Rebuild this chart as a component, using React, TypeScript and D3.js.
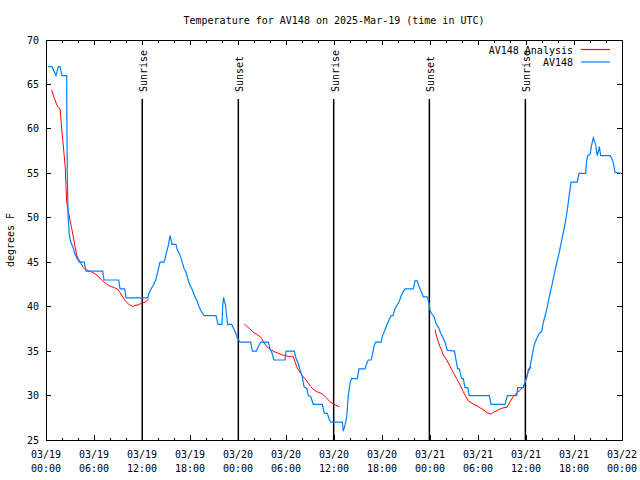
import React from "react";
import * as d3 from "d3";

const TITLE = "Temperature for AV148 on 2025-Mar-19 (time in UTC)";
const Y_LABEL = "degrees F";

// hours since 03/19 00:00 UTC
const obsHours = [0.25, 0.75, 1.25, 1.54, 1.75, 2.0, 2.59, 2.6, 2.66, 2.75, 2.91, 3.09, 3.41, 3.59, 3.84, 4.16, 4.79, 4.88, 5.0, 7.09, 7.25, 9.09, 9.25, 9.84, 10.0, 12.71, 12.88, 13.13, 13.41, 13.71, 13.91, 14.04, 14.25, 14.75, 14.88, 15.09, 15.29, 15.5, 15.59, 15.75, 16.25, 16.41, 16.75, 16.96, 17.25, 17.5, 17.71, 18.0, 18.29, 18.63, 18.91, 19.13, 19.46, 19.75, 21.25, 21.5, 22.0, 22.09, 22.21, 22.29, 22.41, 22.59, 22.71, 23.21, 23.63, 23.91, 24.25, 25.59, 25.79, 26.29, 26.54, 26.84, 27.79, 28.0, 28.21, 28.5, 29.88, 30.0, 31.04, 31.25, 31.54, 31.75, 32.04, 32.25, 32.59, 32.79, 33.09, 33.41, 34.54, 34.79, 35.16, 35.38, 35.59, 37.04, 37.16, 37.38, 37.59, 37.79, 38.0, 38.19, 38.91, 39.13, 39.88, 40.09, 40.29, 40.66, 40.84, 41.04, 41.21, 41.88, 42.09, 42.29, 42.59, 42.88, 43.13, 43.38, 43.63, 43.91, 44.16, 44.38, 44.66, 44.88, 45.91, 46.13, 46.41, 46.66, 46.96, 47.16, 47.66, 47.88, 48.0, 48.21, 48.5, 48.75, 49.04, 49.34, 49.59, 49.88, 50.16, 51.06, 51.25, 51.46, 51.66, 51.96, 52.16, 52.38, 52.71, 52.91, 55.41, 55.63, 57.38, 57.66, 58.84, 58.96, 59.66, 59.91, 60.09, 60.29, 60.5, 60.69, 60.91, 61.13, 61.34, 61.66, 61.96, 62.16, 62.46, 62.71, 63.0, 63.29, 63.54, 63.84, 64.13, 64.38, 64.66, 64.96, 65.21, 65.41, 65.63, 66.41, 66.63, 67.46, 67.59, 67.71, 68.0, 68.21, 68.41, 68.71, 68.91, 69.09, 69.16, 69.34, 70.5, 70.71, 70.91, 71.13, 71.88];
const obsTemps = [67, 67, 66, 67, 67, 66, 66, 62.2, 55, 50.5, 48.1, 47.3, 46.6, 46, 45.5, 45, 45, 44.5, 44, 44, 43, 43, 42, 42, 41, 41, 41.5, 42, 42.4, 43, 43.7, 44.2, 45, 45, 45.4, 46.2, 46.9, 48, 47.7, 47, 47, 46.4, 45.8, 45.2, 44.3, 43.9, 43.2, 42.4, 41.9, 41.1, 40.6, 40, 39.4, 39, 39, 38, 38, 40.2, 41.05, 40.6, 40.3, 38.9, 38, 38, 37.2, 36.5, 36, 36, 35, 35, 35.5, 36, 36, 35.2, 34.9, 34, 34, 35, 35, 34.2, 33.6, 32.9, 32.1, 31, 30.8, 30, 29.9, 29, 29, 28, 28, 27.4, 27, 27, 26, 26.7, 27.6, 30, 31.4, 31.9, 31.9, 33, 33, 33.6, 34, 34, 34.8, 35.7, 36, 36, 36.8, 37.2, 37.9, 38.5, 39, 39, 39.8, 40.2, 40.6, 41.2, 41.7, 42, 42, 42.9, 42.9, 42.2, 41.6, 41.1, 41.1, 40.4, 39.6, 39.2, 38.9, 38.1, 37.7, 37, 36.6, 36, 35.1, 35, 34, 33, 33, 31.9, 31.9, 30.9, 30.9, 30, 30, 29, 29, 30, 30, 30.9, 30.9, 31.6, 32, 32.9, 33.2, 34.1, 35.2, 36, 36.4, 37, 37.2, 38.2, 39.2, 40.2, 41.5, 42.6, 43.7, 44.9, 46, 47.1, 48.3, 49.7, 51.2, 52.6, 54, 54, 55, 55, 56.5, 57, 57.1, 58.2, 59, 58.2, 57, 57.6, 58, 57, 57, 56.7, 56.2, 55.1, 55];

// analysis (null = gap)
const anaHours = [0.71, 0.91, 1.13, 1.34, 1.54, 1.75, 1.96, 2.09, 2.25, 2.41, 2.5, 2.59, 2.79, 3.0, 3.21, 3.41, 3.63, 3.84, 4.04, 4.25, 4.46, 4.66, 4.88, 5.29, 5.71, 6.13, 6.54, 6.96, 7.38, 7.79, 8.21, 8.63, 8.91, 9.25, 9.59, 9.88, 10.29, 10.84, 11.13, 11.54, 11.96, 12.38, 12.84,
  null,
  24.79, 25.09, 25.41, 25.71, 26.0, 26.34, 26.66, 26.96, 27.16, 27.38, 27.59, 27.88, 28.21, 28.63, 29.04, 29.46, 29.88, 30.29, 30.71, 30.91, 31.13, 31.34, 31.54, 31.84, 32.16, 32.5, 32.79, 33.09, 33.41, 33.84, 34.25, 34.66, 35.09, 35.5, 35.91, 36.25, 36.66,
  null,
  48.63, 48.84, 49.04, 49.25, 49.46, 49.66, 50.09, 50.5, 50.91, 51.34, 51.75, 52.16, 52.59, 52.79, 53.41, 54.04, 54.66, 55.09, 55.59, 55.91, 56.54, 57.09, 57.66, 58.0, 58.41, 58.84, 59.25, 59.66, 59.88, 60.09, 60.29, 60.63];
const anaTemps = [64.4, 63.8, 63.25, 62.7, 62.4, 62.3, 60.1, 58.75, 57.25, 55.6, 53.5, 51.8, 50.7, 49.75, 48.8, 47.9, 46.75, 45.8, 45.4, 45.06, 44.7, 44.4, 44.2, 44.05, 43.9, 43.7, 43.4, 43.0, 42.7, 42.4, 42.25, 42.1, 42.0, 41.6, 41.1, 40.7, 40.3, 40.0, 40.15, 40.2, 40.4, 40.5, 40.86,
  null,
  38.05, 37.8, 37.55, 37.3, 37.07, 36.9, 36.7, 36.44, 36.06, 35.8, 35.5, 35.3, 35.1, 34.9, 34.75, 34.6, 34.5, 34.4, 34.4, 34.35, 33.8, 33.25, 32.9, 32.5, 32.1, 31.75, 31.4, 31.0, 30.7, 30.44, 30.3, 30.1, 29.7, 29.3, 29.05, 28.9, 28.75,
  null,
  37.4, 36.6, 36.06, 35.5, 35.1, 34.56, 34.0, 33.3, 32.6, 31.9, 31.2, 30.44, 29.7, 29.4, 29.05, 28.75, 28.4, 28.1, 27.9, 28.1, 28.4, 28.6, 28.7, 29.3, 29.9, 30.3, 30.6, 31.0, 31.4, 32.1, 32.7, 33.25];

const sunHours = [12.03, 24.04, 35.96, 47.92, 59.92];
const sunLabels = ["Sunrise", "Sunset", "Sunrise", "Sunset", "Sunrise"];

const xTickHours = [0, 6, 12, 18, 24, 30, 36, 42, 48, 54, 60, 66, 72];
const xTickDates = ["03/19", "03/19", "03/19", "03/19", "03/20", "03/20", "03/20", "03/20", "03/21", "03/21", "03/21", "03/21", "03/22"];
const xTickTimes = ["00:00", "06:00", "12:00", "18:00", "00:00", "06:00", "12:00", "18:00", "00:00", "06:00", "12:00", "18:00", "00:00"];
const yTicks = [25, 30, 35, 40, 45, 50, 55, 60, 65, 70];

const seriesNames = ["AV148 Analysis", "AV148"];
const seriesColors = ["#ff0000", "#0080ff"];

const FONT = "'DejaVu Sans Mono', monospace";

export default function App() {
  const L = 46, R = 622, T = 40, B = 440;
  const x = d3.scaleLinear().domain([0, 72]).range([L, R]);
  const y = d3.scaleLinear().domain([25, 70]).range([B, T]);

  const obs = obsHours.map((h, i) => [h, obsTemps[i]] as [number, number]);
  const ana = anaHours.map((h, i) => [h, anaTemps[i]] as [any, any]);
  const line = d3
    .line<[any, any]>()
    .defined((d) => d[0] != null && d[1] != null)
    .x((d) => x(d[0]))
    .y((d) => y(d[1]));

  const minorX = d3.range(0, 73, 2).filter((h) => h % 6 !== 0);

  return (
    <svg width={640} height={480} style={{ position: "absolute", left: 0, top: 0, background: "#fff" }} fontFamily={FONT} fontSize={10}>
      <rect x={0} y={0} width={640} height={480} fill="#fff" />
      <text x={(L + R) / 2} y={20} textAnchor="middle" dominantBaseline="central">{TITLE}</text>
      <text transform={`translate(10,${(T + B) / 2}) rotate(-90)`} textAnchor="middle" dominantBaseline="central">{Y_LABEL}</text>

      {/* y ticks */}
      {yTicks.map((v) => (
        <g key={"y" + v}>
          <line x1={L} x2={L + 5} y1={y(v)} y2={y(v)} stroke="#000" shapeRendering="crispEdges" />
          <line x1={R - 5} x2={R} y1={y(v)} y2={y(v)} stroke="#000" shapeRendering="crispEdges" />
          <text x={39} y={y(v)} textAnchor="end" dominantBaseline="central">{v}</text>
        </g>
      ))}
      {/* x ticks */}
      {xTickHours.map((h, i) => (
        <g key={"x" + h}>
          <line x1={x(h)} x2={x(h)} y1={B} y2={B - 5} stroke="#000" shapeRendering="crispEdges" />
          <line x1={x(h)} x2={x(h)} y1={T} y2={T + 5} stroke="#000" shapeRendering="crispEdges" />
          <text x={x(h)} y={454} textAnchor="middle" dominantBaseline="central">{xTickDates[i]}</text>
          <text x={x(h)} y={468} textAnchor="middle" dominantBaseline="central">{xTickTimes[i]}</text>
        </g>
      ))}
      {minorX.map((h) => (
        <g key={"m" + h}>
          <line x1={x(h)} x2={x(h)} y1={B} y2={B - 2.5} stroke="#000" shapeRendering="crispEdges" />
          <line x1={x(h)} x2={x(h)} y1={T} y2={T + 2.5} stroke="#000" shapeRendering="crispEdges" />
        </g>
      ))}

      {/* sunrise/sunset */}
      {sunHours.map((h, i) => (
        <g key={"s" + i}>
          <line x1={x(h)} x2={x(h)} y1={99} y2={B} stroke="#000" strokeWidth={1.5} />
          <text transform={`translate(${x(h) + 5},92) rotate(-90)`} textAnchor="start">{sunLabels[i]}</text>
        </g>
      ))}

      <path d={line(ana) || ""} fill="none" stroke={seriesColors[0]} strokeWidth={1} />
      <path d={line(obs) || ""} fill="none" stroke={seriesColors[1]} strokeWidth={1.2} />

      {/* legend */}
      {seriesNames.map((n, i) => (
        <g key={n}>
          <text x={573} y={50 + i * 12.5} textAnchor="end" dominantBaseline="central">{n}</text>
          <line x1={581} x2={610} y1={49.5 + i * 12.5} y2={49.5 + i * 12.5} stroke={seriesColors[i]} strokeWidth={1.2} />
        </g>
      ))}

      <rect x={L} y={T} width={R - L} height={B - T} fill="none" stroke="#000" shapeRendering="crispEdges" />
    </svg>
  );
}
